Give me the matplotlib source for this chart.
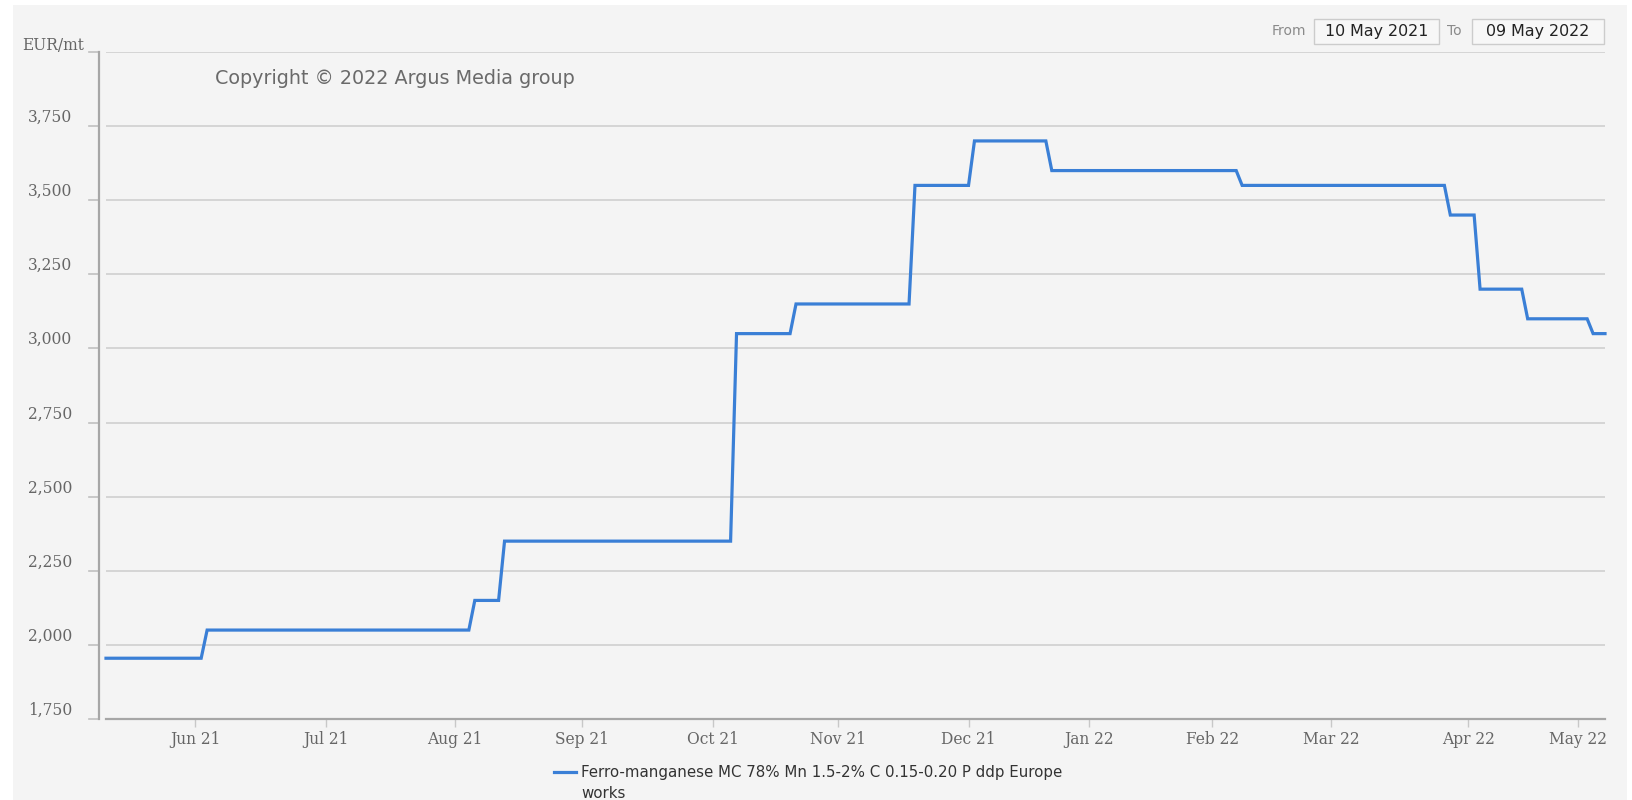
import numpy as np
import pandas as pd
import matplotlib
matplotlib.use("Agg")
import matplotlib.pyplot as plt
from matplotlib.patches import Rectangle
from matplotlib.lines import Line2D
from matplotlib.transforms import blended_transform_factory

# ---- data -------------------------------------------------------------
series_name_lines = ["Ferro-manganese MC 78% Mn 1.5-2% C 0.15-0.20 P ddp Europe",
                     "works"]
unit_label = "EUR/mt"
range_start = "2021-05-10"
range_end = "2022-05-09"

# UK market holidays with no assessment in the period
market_holidays = ["2021-05-31", "2021-08-30", "2021-12-27", "2021-12-28",
                   "2022-01-03", "2022-04-15", "2022-04-18", "2022-05-02"]

# Price levels (EUR/mt) with the first and last assessment day of each level
level_values = [1955, 2050, 2150, 2350, 3050, 3150, 3550,
                3700, 3600, 3550, 3450, 3200, 3100, 3050]
level_first = ["2021-05-10", "2021-06-03", "2021-08-05", "2021-08-12",
               "2021-10-07", "2021-10-21", "2021-11-18", "2021-12-02",
               "2021-12-21", "2022-02-08", "2022-03-29", "2022-04-05",
               "2022-04-19", "2022-05-05"]
level_last = ["2021-06-02", "2021-08-04", "2021-08-11", "2021-10-06",
              "2021-10-20", "2021-11-17", "2021-12-01", "2021-12-20",
              "2022-02-07", "2022-03-28", "2022-04-04", "2022-04-14",
              "2022-05-04", "2022-05-09"]

y_ticks = [1750, 2000, 2250, 2500, 2750, 3000, 3250, 3500, 3750, 4000]
y_tick_labels = ["1,750", "2,000", "2,250", "2,500", "2,750", "3,000",
                 "3,250", "3,500", "3,750"]

# ---- ordinal (trading-day) time axis ----------------------------------
trading_days = pd.bdate_range(range_start, range_end)
trading_days = trading_days[~trading_days.isin(pd.to_datetime(market_holidays))]
day_keys = trading_days.values.astype("datetime64[D]").astype(np.int64)
day_index = np.arange(len(trading_days))


def ordinal_pos(dates):
    keys = pd.to_datetime(dates).values.astype("datetime64[D]").astype(np.int64)
    return np.interp(keys, day_keys, day_index)


point_dates = [d for pair in zip(level_first, level_last) for d in pair]
point_values = [v for v in level_values for _ in range(2)]
x_points = ordinal_pos(point_dates)

month_starts = pd.date_range("2021-06-01", "2022-05-01", freq="MS")
month_pos = ordinal_pos(month_starts)
month_labels = [d.strftime("%b %y") for d in month_starts]

# ---- figure -----------------------------------------------------------
W, H = 1632, 800
BG = "#f4f4f4"
GRID = "#d2d2d2"
AXIS = "#a6a6a6"
LABEL = "#666666"
LINE = "#3a7fd6"
SERIF = "DejaVu Serif"
SANS = "DejaVu Sans"

fig = plt.figure(figsize=(W / 100, H / 100), dpi=100, facecolor="white")


def fx(px):
    return px / W


def fy(py):
    return 1 - py / H


fig.add_artist(Rectangle((fx(13), 0), fx(1627) - fx(13), fy(5),
                         transform=fig.transFigure, facecolor=BG,
                         edgecolor="none", zorder=0))

plot_left, plot_right, plot_top, plot_bottom = 106, 1605, 52, 719
ax = fig.add_axes([fx(plot_left), fy(plot_bottom),
                   fx(plot_right) - fx(plot_left), fy(plot_top) - fy(plot_bottom)])
ax.set_facecolor("none")
ax.set_xlim(day_index[0], day_index[-1])
ax.set_ylim(y_ticks[0], y_ticks[-1])

for s in ["top", "right", "left"]:
    ax.spines[s].set_visible(False)
ax.spines["bottom"].set_color(AXIS)
ax.spines["bottom"].set_linewidth(1.6)

ax.set_yticks(y_ticks)
ax.set_yticklabels([])
ax.tick_params(axis="y", length=0)
ax.grid(axis="y", color=GRID, linewidth=1.3)
ax.set_axisbelow(True)

ax.set_xticks(month_pos)
ax.set_xticklabels(month_labels, fontfamily=SERIF, fontsize=11.2, color=LABEL)
ax.tick_params(axis="x", length=6, width=1, color="#c8c8c8", pad=3)

ax.plot(x_points, point_values, color=LINE, linewidth=2.3,
        solid_joinstyle="miter", zorder=3, clip_on=False)

# offset y axis line with outward tick marks
fig.add_artist(Line2D([fx(99), fx(99)], [fy(plot_top), fy(plot_bottom)],
                      transform=fig.transFigure, color=AXIS, linewidth=1.6))
ylab_tr = blended_transform_factory(fig.transFigure, ax.transData)
for v in y_ticks:
    ax.add_line(Line2D([fx(89), fx(99)], [v, v], transform=ylab_tr,
                       color="#c0c0c0", linewidth=1.2, clip_on=False))
for v, lab in zip(y_ticks, y_tick_labels):
    ax.text(fx(72), v + 14, lab, transform=ylab_tr, ha="right",
            va="baseline", fontfamily=SERIF, fontsize=11.2, color=LABEL)
ax.text(fx(84), y_ticks[-1] + 8, unit_label, transform=ylab_tr, ha="right",
        va="baseline", fontfamily=SERIF, fontsize=11.2, color=LABEL)

fig.text(fx(215), fy(79), "Copyright \u00a9 2022 Argus Media group",
         fontfamily=SANS, fontsize=13.8, color="#6a6a6a", va="center")

# date range selector
fig.text(fx(1306), fy(31), "From", fontfamily=SANS, fontsize=10,
         color="#8a8a8a", ha="right", va="center")
fig.text(fx(1462), fy(31), "To", fontfamily=SANS, fontsize=10,
         color="#8a8a8a", ha="right", va="center")
for (x0, x1), txt in [((1314, 1439), "10 May 2021"), ((1472, 1604), "09 May 2022")]:
    fig.add_artist(Rectangle((fx(x0), fy(44)), fx(x1) - fx(x0), fy(19) - fy(44),
                             transform=fig.transFigure, facecolor="#f7f7f7",
                             edgecolor="#cccccc", linewidth=1.0))
    fig.text(fx((x0 + x1) / 2), fy(31.5), txt, fontfamily=SANS, fontsize=11.4,
             color="#222222", ha="center", va="center")

# legend
fig.add_artist(Line2D([fx(554), fx(576)], [fy(772), fy(772)],
                      transform=fig.transFigure, color=LINE, linewidth=2.3))
for i, part in enumerate(series_name_lines):
    fig.text(fx(581), fy(772 + 22 * i), part, fontfamily=SANS, fontsize=10.8,
             color="#333333", ha="left", va="center")

fig.savefig("out.png", dpi=100, facecolor=fig.get_facecolor())
